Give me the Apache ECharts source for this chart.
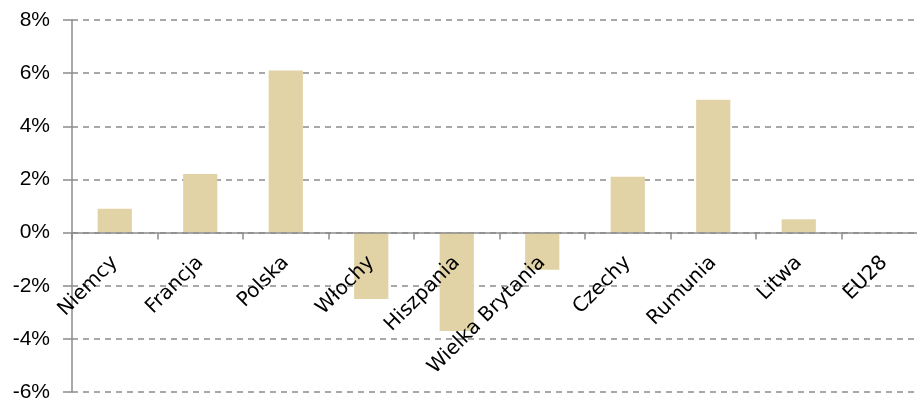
<!DOCTYPE html>
<html>
<head>
<meta charset="utf-8">
<script src="https://cdn.jsdelivr.net/npm/echarts@6/dist/echarts.min.js"></script>
<style>
  html, body { margin: 0; padding: 0; background: #fff; }
  #chart { width: 917px; height: 398px; }
</style>
</head>
<body>
<div id="chart"></div>
<script>
// Countries on the category axis
const countries = ['Niemcy', 'Francja', 'Polska', 'Włochy', 'Hiszpania',
  'Wielka Brytania', 'Czechy', 'Rumunia', 'Litwa', 'EU28'];
// Percentage change per country
const changePct = [0.9, 2.2, 6.1, -2.5, -3.7, -1.4, 2.1, 5.0, 0.5, 0];
// Value axis range and step, in percent
const yMin = -6;
const yMax = 8;
const yStep = 2;

const gridTop = 20;
const gridBottom = 6;
const chartH = 398;
const plotH = chartH - gridTop - gridBottom;
// distance from the plot's bottom edge up to the zero line
const zeroLift = plotH * (0 - yMin) / (yMax - yMin);

const chart = echarts.init(document.getElementById('chart'), null, { renderer: 'canvas' });
const axisGray = '#8c8c8c';

chart.setOption({
  animation: false,
  grid: { left: 72, right: -10, top: gridTop, bottom: gridBottom,
    containLabel: false, outerBoundsMode: 'none' },
  xAxis: {
    type: 'category',
    data: countries,
    boundaryGap: true,
    position: 'bottom',
    offset: -zeroLift,
    z: 5,
    axisLine: { onZero: false, lineStyle: { color: axisGray, width: 1.5 } },
    axisTick: { show: true, length: 7, inside: false,
      lineStyle: { color: axisGray, width: 1.5 } },
    axisLabel: {
      interval: 0, rotate: 45, margin: 27, hideOverlap: false,
      color: '#000', fontFamily: 'DejaVu Sans', fontSize: 20
    },
    splitLine: { show: false }
  },
  yAxis: {
    type: 'value',
    min: yMin, max: yMax, interval: yStep,
    axisLine: { show: true, lineStyle: { color: axisGray, width: 1.5 } },
    axisTick: { show: true, length: 9, lineStyle: { color: axisGray, width: 1.5 } },
    axisLabel: {
      margin: 22, color: '#000', fontFamily: 'Liberation Sans', fontSize: 21,
      formatter: v => v + '%'
    },
    splitLine: { show: true, lineStyle: { color: axisGray, type: [6, 5], width: 1.5 } }
  },
  series: [{
    type: 'bar',
    data: changePct,
    barWidth: '40%',
    itemStyle: { color: '#e1d3a5' }
  }]
});
</script>
</body>
</html>
